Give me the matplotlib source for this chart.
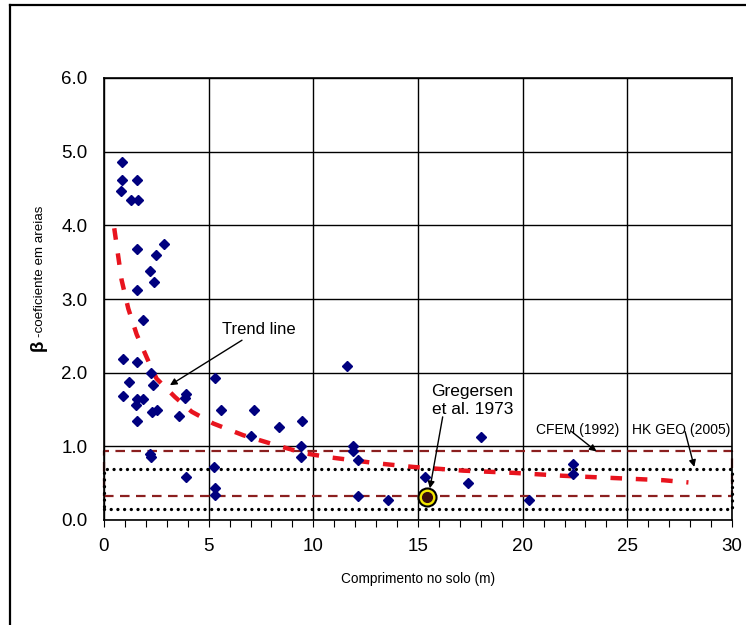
import matplotlib.pyplot as plt
from matplotlib.lines import Line2D

plt.rcParams['font.family'] = ['Liberation Sans', 'DejaVu Sans']

# Measured beta values (sand) versus embedded length
length_m = [0.87, 0.87, 1.56, 0.81, 1.27, 1.64, 1.56, 2.88, 2.47, 2.20,
            2.40, 1.56, 1.84, 0.89, 1.56, 2.25, 1.21, 2.33, 0.89, 1.56,
            1.88, 3.92, 3.87, 1.53, 2.28, 2.51, 3.60, 1.56, 2.20, 2.25,
            3.92, 5.29, 5.59, 7.17, 8.35, 9.48, 7.02, 9.41, 9.41, 5.26,
            5.30, 5.30, 11.59, 11.91, 11.88, 12.12, 12.12, 13.55, 15.35,
            18.01, 17.37, 20.31, 22.41, 22.41]
beta = [4.86, 4.62, 4.62, 4.46, 4.34, 4.34, 3.68, 3.75, 3.60, 3.38,
        3.23, 3.12, 2.71, 2.18, 2.14, 1.99, 1.87, 1.83, 1.68, 1.64,
        1.64, 1.71, 1.65, 1.56, 1.46, 1.50, 1.41, 1.35, 0.90, 0.85,
        0.59, 1.93, 1.50, 1.50, 1.26, 1.34, 1.14, 1.00, 0.85, 0.72,
        0.43, 0.34, 2.09, 1.00, 0.93, 0.82, 0.32, 0.27, 0.59,
        1.13, 0.50, 0.27, 0.76, 0.62]

# Gregersen et al. (1973)
greg_x = [15.45]
greg_y = [0.31]

# Trend line
trend_x = [0.49, 0.84, 1.16, 1.56, 2.16, 2.51, 3.39, 4.19, 5.22, 6.66, 8.41,
           9.6, 10.8, 13.03, 14.78, 17.17, 19.56, 21.95, 24.33, 26.72, 27.92]
trend_y = [3.96, 3.26, 2.87, 2.52, 2.13, 1.92, 1.67, 1.47, 1.31, 1.15, 1.00,
           0.905, 0.85, 0.77, 0.72, 0.67, 0.64, 0.60, 0.57, 0.54, 0.51]

# Recommended ranges
cfem_range = [0.32, 0.93]
hkgeo_range = [0.15, 0.69]

fig = plt.figure(figsize=(7.46, 6.25), dpi=100)
ax = fig.add_axes([0.1394, 0.168, 0.8418, 0.7072])

ax.set_xlim(0, 30)
ax.set_ylim(0, 6)
ax.set_xticks([0, 5, 10, 15, 20, 25, 30])
ax.set_xticks(range(0, 31), minor=True)
ax.set_yticks([0, 1, 2, 3, 4, 5, 6])
ax.set_yticklabels([f'{v:.1f}' for v in range(7)])
ax.grid(True, which='major', color='black', linewidth=1.0)
ax.set_axisbelow(True)
ax.tick_params(axis='x', which='both', direction='out', length=5, width=0.8,
               labelsize=13.5, pad=8)
ax.tick_params(axis='y', length=0, labelsize=13.5, pad=12)
for s in ax.spines.values():
    s.set_linewidth(1.2)

# CFEM (1992) and HK GEO (2005) bands
ax.plot([0, 30, 30, 0, 0],
        [cfem_range[0], cfem_range[0], cfem_range[1], cfem_range[1], cfem_range[0]],
        color='#8b1f1f', linewidth=1.6, linestyle=(0, (4.3, 2.9)), clip_on=False, zorder=2)
ax.plot([0, 30, 30, 0, 0],
        [hkgeo_range[0], hkgeo_range[0], hkgeo_range[1], hkgeo_range[1], hkgeo_range[0]],
        color='black', linewidth=2.4, linestyle=(0, (0.01, 2.0)),
        dash_capstyle='round', clip_on=False, zorder=2)

ax.plot(trend_x, trend_y, color='#e8141e', linewidth=3.2,
        linestyle=(0, (2.6, 3.1)), zorder=3)

ax.plot(length_m, beta, linestyle='none', marker='D', markersize=5,
        color='#00007f', zorder=4)

ax.plot(greg_x, greg_y, linestyle='none', marker='o', markersize=13,
        markerfacecolor='#f2e600', markeredgecolor='black', markeredgewidth=1.5, zorder=5)
ax.plot(greg_x, greg_y, linestyle='none', marker='o', markersize=7,
        color='#3a0c0c', zorder=6)

arrow = dict(arrowstyle='-|>', color='black', linewidth=1.0, mutation_scale=10,
             shrinkA=0, shrinkB=0)
ax.annotate('Trend line', xy=(3.15, 1.83), xytext=(5.62, 2.58),
            fontsize=12, ha='left', va='center', arrowprops=arrow, zorder=7)
ax.text(17.6, 1.62, 'Gregersen\net al. 1973', fontsize=12.5,
        ha='center', va='center', linespacing=1.2, zorder=7)
ax.annotate('', xy=(15.57, 0.43), xytext=(16.18, 1.40), arrowprops=arrow, zorder=7)
ax.text(22.65, 1.22, 'CFEM (1992)', fontsize=10, ha='center', va='center', zorder=7)
ax.annotate('', xy=(23.53, 0.93), xytext=(22.34, 1.20), arrowprops=arrow, zorder=7)
ax.text(27.56, 1.22, 'HK GEO (2005)', fontsize=10, ha='center', va='center',
        clip_on=True, zorder=7)
ax.annotate('', xy=(28.2, 0.72), xytext=(27.76, 1.20), arrowprops=arrow, zorder=7)

ax.set_xlabel('Comprimento no solo (m)', fontsize=9.8, labelpad=12)

# y label: bold beta followed by the smaller description
fig.text(38 / 746, 1 - 345 / 625, '\u03b2', fontsize=13.5, fontweight='bold',
         rotation=90, ha='center', va='center')
fig.text(40 / 746, 1 - 337 / 625, '-coeficiente em areias', fontsize=9.6,
         rotation=90, ha='center', va='bottom')

# outer frame (left and top edges)
fig.add_artist(Line2D([10 / 746, 10 / 746], [0, 1 - 5 / 625], color='black',
                      linewidth=1.6, transform=fig.transFigure))
fig.add_artist(Line2D([10 / 746, 1], [1 - 5 / 625, 1 - 5 / 625], color='black',
                      linewidth=1.6, transform=fig.transFigure))

fig.savefig('out.png', dpi=100)
